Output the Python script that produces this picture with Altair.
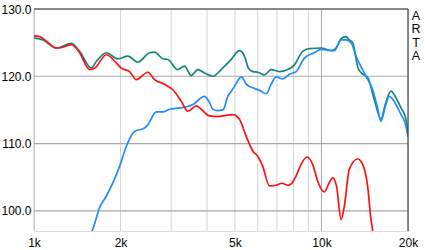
import altair as alt
import pandas as pd

# --- data ---
teal_f = [1000, 1075, 1196, 1349, 1441, 1583, 1647, 1785, 1958, 2121, 2298, 2523, 2627, 2808, 2922,
          3157, 3340, 3523, 3713, 3918, 4188, 4479, 4852, 5184, 5396, 5572, 5768, 6012, 6333, 6681,
          7141, 7737, 8052, 8604, 9078, 9968, 10800, 11240, 11700, 12170, 12500, 12840, 13410, 13760,
          14500, 15270, 16110, 16670, 17450, 18060, 18910, 19680, 20000]
teal_v = [125.7, 125.4, 124.2, 124.9, 123.7, 121.2, 122.2, 123.5, 122.6, 123.0, 122.1, 123.5, 123.6, 122.6, 122.5,
          121.0, 121.5, 120.1, 121.0, 120.5, 120.0, 121.0, 122.5, 123.8, 123.0, 121.2, 120.7, 120.6, 120.2, 121.0,
          120.7, 121.1, 121.7, 123.7, 124.1, 124.2, 123.8, 124.2, 125.6, 125.9, 125.4, 125.0, 121.2, 120.5,
          119.8, 116.5, 113.6, 115.8, 117.8, 117.0, 115.3, 113.6, 111.0]

blue_f = [1537, 1603, 1692, 1785, 1882, 1985, 2095, 2238, 2424, 2489, 2663, 2808, 2961, 3208, 3428,
          3568, 3918, 4078, 4188, 4347, 4543, 4721, 4863, 4982, 5269, 5484, 5846, 6084, 6423, 6681,
          6955, 7332, 7737, 8162, 8721, 9448, 9968, 11090, 11700, 12170, 12700, 13190, 14290, 15070,
          15640, 16110, 16670, 17210, 18060, 18910, 19450, 20000]
blue_v = [95.5, 97.3, 100.5, 102.2, 104.2, 106.6, 109.6, 111.8, 112.3, 112.8, 114.7, 114.7, 115.1, 115.3, 115.5,
          115.8, 117.0, 116.1, 115.1, 114.9, 115.0, 117.0, 117.8, 118.5, 119.9, 118.8, 118.2, 117.9, 117.4, 118.8,
          119.9, 119.6, 120.3, 120.7, 122.7, 123.5, 124.0, 123.8, 125.4, 125.4, 124.9, 123.0, 120.0, 118.0,
          115.5, 113.3, 115.5, 117.0, 116.0, 114.3, 113.3, 111.2]

red_f = [1000, 1047, 1104, 1196, 1228, 1349, 1441, 1561, 1625, 1785, 1933, 2012, 2150, 2269, 2489,
         2627, 2846, 3041, 3252, 3428, 3667, 3817, 4078, 4358, 4661, 4915, 5184, 5470, 5768, 6003,
         6248, 6592, 6955, 7297, 7632, 7842, 8162, 8494, 8884, 9320, 9701, 10230, 10650, 10940, 11290,
         11700, 12010, 12500, 13360, 13910, 14470, 14870, 15070, 15270]
red_v = [126.0, 125.9, 125.2, 124.2, 124.2, 124.7, 123.5, 121.0, 121.2, 123.2, 122.0, 121.2, 120.7, 119.5, 120.6,
         119.5, 118.8, 118.0, 116.3, 114.8, 115.6, 115.1, 114.1, 114.0, 114.2, 114.3, 113.6, 111.1, 108.9, 108.1,
         106.6, 103.7, 103.8, 104.1, 103.8, 104.0, 105.2, 106.9, 108.0, 106.9, 104.4, 102.8, 104.2, 104.9, 103.6,
         98.7, 100.7, 106.2, 107.7, 106.9, 103.7, 98.7, 97.0, 94.0]

x_ticks = [1000, 2000, 5000, 10000, 20000]
y_ticks = [100, 110, 120, 130]
minor_f = [2000, 3000, 4000, 5000, 6000, 7000, 8000, 9000]
h_grid = [100, 110, 120]

X_DOM = [1000, 20000]
Y_DOM = [97, 130]

W, H = 374, 222

xs = alt.Scale(type="log", domain=X_DOM, nice=False)
ys = alt.Scale(domain=Y_DOM, nice=False, zero=False)

FONT = "Liberation Sans"

AX_X = alt.Axis(values=x_ticks, labelExpr="datum.value/1000 + 'k'", grid=False, domain=False,
                ticks=False, labelPadding=6, labelFontSize=12, labelFont=FONT,
                labelColor="#000000", labelFlush=False, labelOverlap=False, title=None)
AX_Y = alt.Axis(values=y_ticks, format=".1f", grid=False, domain=False, ticks=False,
                labelPadding=3, labelFontSize=12, labelFont=FONT, labelColor="#000000",
                labelFlush=False, labelOverlap=False, title=None)


def X(field="f"):
    return alt.X(f"{field}:Q", scale=xs, axis=AX_X, title=None)


def Y(field="v"):
    return alt.Y(f"{field}:Q", scale=ys, axis=AX_Y, title=None)


def line(fs, vs, color):
    df = pd.DataFrame({"f": fs, "v": vs})
    return alt.Chart(df).mark_line(color=color, strokeWidth=1.7, clip=True, interpolate="monotone").encode(
        x=X(), y=Y())


minor = alt.Chart(pd.DataFrame({"f": minor_f})).mark_rule(color="#d4d4d4", strokeWidth=1).encode(x=X())
ten = alt.Chart(pd.DataFrame({"f": [10000]})).mark_rule(color="#a8a8a8", strokeWidth=1).encode(x=X())
left = alt.Chart(pd.DataFrame({"f": [1000]})).mark_rule(color="#bdbdbd", strokeWidth=1).encode(x=X())
right = alt.Chart(pd.DataFrame({"f": [20000]})).mark_rule(color="#444444", strokeWidth=1.2).encode(x=X())
hg = alt.Chart(pd.DataFrame({"v": h_grid})).mark_rule(color="#a8a8a8", strokeWidth=1.2).encode(y=Y())
top = alt.Chart(pd.DataFrame({"v": [130]})).mark_rule(color="#666666", strokeWidth=1.3).encode(y=Y())

arta = alt.Chart(pd.DataFrame({"t": ["A\nR\nT\nA"]})).mark_text(
    lineBreak="\n", lineHeight=13.3, fontSize=12.5, font=FONT, align="center", baseline="top", color="#000000"
).encode(text="t:N", x=alt.value(W + 8), y=alt.value(1))

chart = alt.layer(
    minor, ten, left, hg,
    line(teal_f, teal_v, "#15877a"),
    line(blue_f, blue_v, "#1f8cff"),
    line(red_f, red_v, "#ff1111"),
    top, right, arta,
).properties(
    width=W, height=H,
    autosize=alt.AutoSizeParams(type="none"),
    padding={"left": 34, "top": 9, "right": 17, "bottom": 19},
).configure_view(stroke=None).configure(background="#ffffff")

chart.save("out.html", embed_options={"renderer": "svg", "actions": False})
